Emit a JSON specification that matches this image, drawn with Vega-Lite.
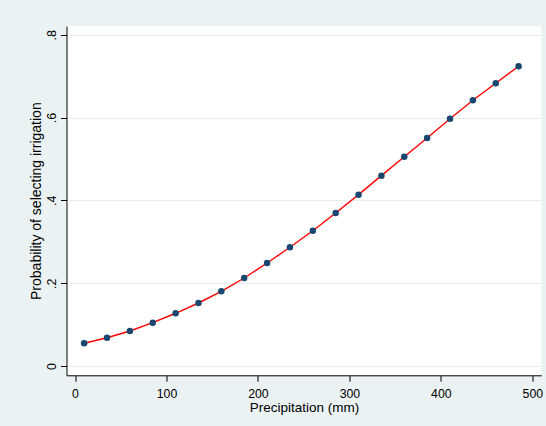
{
  "$schema": "https://vega.github.io/schema/vega-lite/v6.json",
  "width": 474.8,
  "height": 349.3,
  "autosize": {"type": "none"},
  "padding": {"left": 66.5, "top": 26, "right": 4.7, "bottom": 50.7},
  "background": "#eaf2f3",
  "config": {
    "view": {"fill": "white", "stroke": null},
    "font": "Liberation Sans"
  },
  "data": {
    "values": [
      {"precip": 10, "prob": 0.0548},
      {"precip": 35, "prob": 0.0683},
      {"precip": 60, "prob": 0.0845},
      {"precip": 85, "prob": 0.1046},
      {"precip": 110, "prob": 0.1273},
      {"precip": 135, "prob": 0.1521},
      {"precip": 160, "prob": 0.1804},
      {"precip": 185, "prob": 0.2125},
      {"precip": 210, "prob": 0.2487},
      {"precip": 235, "prob": 0.2866},
      {"precip": 260, "prob": 0.3267},
      {"precip": 285, "prob": 0.3695},
      {"precip": 310, "prob": 0.4137},
      {"precip": 335, "prob": 0.4596},
      {"precip": 360, "prob": 0.5054},
      {"precip": 385, "prob": 0.5506},
      {"precip": 410, "prob": 0.5972},
      {"precip": 435, "prob": 0.6416},
      {"precip": 460, "prob": 0.6827},
      {"precip": 485, "prob": 0.7237}
    ]
  },
  "encoding": {
    "x": {
      "field": "precip",
      "type": "quantitative",
      "scale": {"domain": [-9.3, 509.8], "nice": false, "zero": false},
      "axis": {
        "title": "Precipitation (mm)",
        "values": [0, 100, 200, 300, 400, 500],
        "grid": false,
        "domainColor": "#000000",
        "domainWidth": 1,
        "tickColor": "#000000",
        "tickSize": 6,
        "labelFontSize": 12.3,
        "labelPadding": 6,
        "labelColor": "#000000",
        "labelFlush": false,
        "titleFontSize": 13.5,
        "titleFontWeight": "normal",
        "titleColor": "#000000",
        "titleBaseline": "alphabetic",
        "titleY": 36.2
      }
    },
    "y": {
      "field": "prob",
      "type": "quantitative",
      "scale": {"domain": [-0.0225, 0.821], "nice": false, "zero": false},
      "axis": {
        "title": "Probability of selecting irrigation",
        "values": [0, 0.2, 0.4, 0.6, 0.8],
        "labelExpr": "datum.value == 0 ? '0' : '.' + round(datum.value * 10)",
        "grid": true,
        "gridColor": "#e6eef0",
        "gridWidth": 1,
        "domainColor": "#000000",
        "domainWidth": 1,
        "tickColor": "#000000",
        "tickSize": 6,
        "labelFontSize": 12.5,
        "labelAngle": 270,
        "labelAlign": "center",
        "labelBaseline": "alphabetic",
        "labelPadding": 5,
        "labelColor": "#000000",
        "labelFlush": false,
        "titleFontSize": 14,
        "titleFontWeight": "normal",
        "titleColor": "#000000",
        "titleAngle": 270,
        "titleBaseline": "alphabetic",
        "titleX": -25.8
      }
    }
  },
  "layer": [
    {"mark": {"type": "line", "color": "#ff0000", "strokeWidth": 1.4}},
    {"mark": {"type": "circle", "color": "#1a476f", "size": 42, "opacity": 1}}
  ]
}
